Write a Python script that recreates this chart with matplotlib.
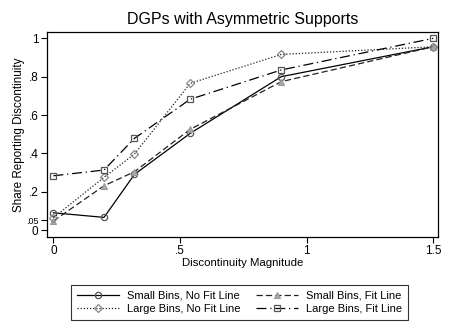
import numpy as np
import matplotlib.pyplot as plt

plt.rcParams['font.family'] = ['Liberation Sans', 'DejaVu Sans']

magnitude = [0, 0.2, 0.32, 0.54, 0.9, 1.5]
small_nofit = [0.09, 0.066, 0.29, 0.504, 0.80, 0.956]
small_fit = [0.047, 0.231, 0.304, 0.525, 0.774, 0.956]
large_nofit = [0.064, 0.275, 0.396, 0.765, 0.916, 0.956]
large_fit = [0.283, 0.313, 0.478, 0.682, 0.835, 1.0]

ytick_vals = [0, 0.05, 0.2, 0.4, 0.6, 0.8, 1]
ytick_labels = ['0', '.05', '.2', '.4', '.6', '.8', '1']
xtick_vals = [0, 0.5, 1, 1.5]
xtick_labels = ['0', '.5', '1', '1.5']

fig = plt.figure(figsize=(4.5, 3.27), dpi=100)
ax = fig.add_axes([0.104, 0.276, 0.870, 0.625])

ax.plot(magnitude, small_nofit, color='black', lw=0.9, ls='-',
        marker='o', ms=4.5, mfc='none', mec='#555555', mew=0.9,
        label='Small Bins, No Fit Line')
ax.plot(magnitude, small_fit, color='#222222', lw=0.9, ls=(0, (5, 2.5)),
        marker='^', ms=4.5, mfc='#aaaaaa', mec='#999999', mew=0.8,
        label='Small Bins, Fit Line')
ax.plot(magnitude, large_nofit, color='#222222', lw=0.9, ls=(0, (1, 1.5)),
        marker='D', ms=4, mfc='none', mec='#888888', mew=0.9,
        label='Large Bins, No Fit Line')
ax.plot(magnitude, large_fit, color='black', lw=0.9, ls=(0, (8, 3, 1, 3)),
        marker='s', ms=4.5, mfc='none', mec='#555555', mew=0.9,
        label='Large Bins, Fit Line')

ax.set_xlim(-0.026, 1.52)
ax.set_ylim(-0.035, 1.031)
ax.set_xticks(xtick_vals)
ax.set_xticklabels(xtick_labels, fontsize=8.5)
ax.set_yticks(ytick_vals)
ax.set_yticklabels(ytick_labels, fontsize=8.5)
ax.get_yticklabels()[1].set_fontsize(6.5)
ax.tick_params(direction='out', length=4, width=0.8, pad=2)
for s in ax.spines.values():
    s.set_linewidth(0.9)

ax.set_title('DGPs with Asymmetric Supports', fontsize=11.5, pad=6)
ax.set_xlabel('Discontinuity Magnitude', fontsize=8.2, labelpad=1)
ax.set_ylabel('Share Reporting Discontinuity', fontsize=8.4, labelpad=1)

handles, labels = ax.get_legend_handles_labels()
order = [0, 2, 1, 3]
leg = fig.legend([handles[i] for i in order], [labels[i] for i in order],
                 ncol=2, loc='upper center', bbox_to_anchor=(0.532, 0.145),
                 fontsize=8, frameon=True, fancybox=False, edgecolor='black',
                 handlelength=3.8, columnspacing=1.4, borderpad=0.5,
                 labelspacing=0.3, handletextpad=0.7)
leg.get_frame().set_linewidth(0.8)

fig.savefig('out.png', dpi=100)
